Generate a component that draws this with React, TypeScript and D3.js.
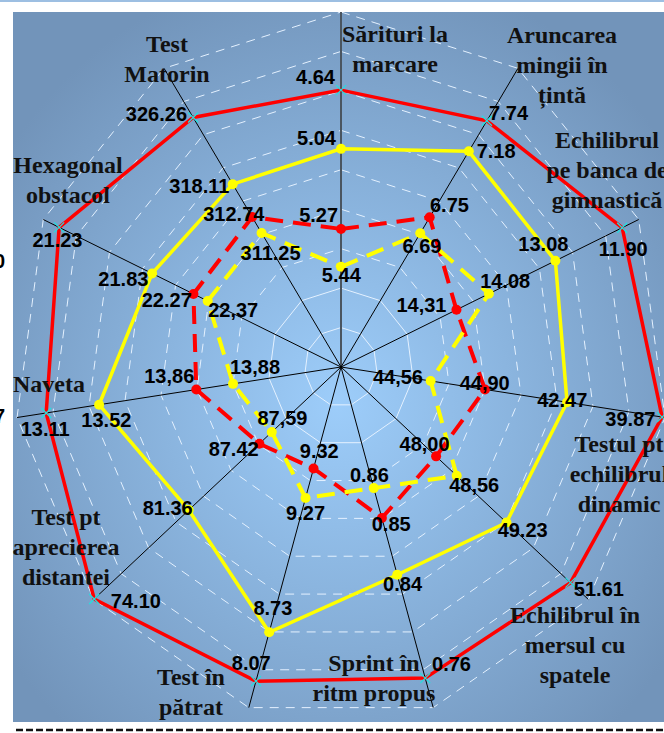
import React, { useEffect, useRef } from 'react';
import * as d3 from 'd3';

// axis names (multi-line)
const categories = [
  ['Sărituri la', 'marcare'],
  ['Aruncarea', 'mingii în', 'țintă'],
  ['Echilibrul', 'pe banca de', 'gimnastică'],
  ['Testul pt', 'echilibrul', 'dinamic'],
  ['Echilibrul în', 'mersul cu', 'spatele'],
  ['Sprint în', 'ritm propus'],
  ['Test în', 'pătrat'],
  ['Test pt', 'aprecierea', 'distantei'],
  ['Naveta'],
  ['Hexagonal', 'obstacol'],
  ['Test', 'Matorin'],
];

// plotted (scaled) values, 0..9 radial scale
const redSolid = [7.02, 7.42, 8.5, 8.92, 8.35, 8.22, 8.3, 8.98, 8.19, 8.52, 7.52];
const yellowSolid = [5.53, 6.5, 6.48, 6.28, 6.02, 5.49, 7.01, 5.54, 6.72, 5.71, 5.51];
const redDashed = [3.5, 4.51, 3.49, 4.0, 3.46, 3.99, 2.68, 2.97, 4.02, 4.46, 4.52];
const yellowDashed = [2.54, 4.03, 4.47, 2.49, 4.21, 3.2, 3.46, 2.52, 3.0, 4.03, 4.04];

// raw results written next to the points
const redSolidLabels = ['4.64', '7.74', '11.90', '39.87', '51.61', '0.76', '8.07', '74.10', '13.11', '21.23', '326.26'];
const yellowSolidLabels = ['5.04', '7.18', '13.08', '42.47', '49.23', '0.84', '8.73', '81.36', '13.52', '21.83', '318.11'];
const redDashedLabels = ['5.27', '6.75', '14,31', '44,90', '48,00', '0.85', '9.32', '87.42', '13,86', '22.27', '312.74'];
const yellowDashedLabels = ['5.44', '6.69', '14.08', '44,56', '48,56', '0.86', '9.27', '87,59', '13,88', '22,37', '311.25'];

// layout: label offsets from their point (x centre, baseline)
const redSolidOff = [[-25.5, -6], [21.7, -0.7], [1, 28], [-31.7, 9], [28.4, 13.4], [26.3, -7.3], [-4.7, -11], [41.7, 9], [-1, 23], [-1.7, 20], [-36.7, 4]];
const yellowSolidOff = [[-24.5, -4], [27.3, 6.6], [-12, -10], [-4.8, 4.3], [16.2, 14], [5.3, 16.7], [3.7, -17.7], [-21, 5], [7.3, 22.3], [-28.7, 12.3], [-33.3, 8.4]];
const redDashedOff = [[-22.4, -7.3], [19.8, -5.6], [-35, 2.4], [-0.3, 1], [-11.5, -5], [9.3, 13.4], [5.7, -10.6], [-25.7, 12.7], [-27, -6.6], [-26.7, 13.3], [-18.3, 4.4]];
const yellowDashedOff = [[0.3, 15], [1.7, 20], [16.3, -6], [-32.7, 3.3], [17.5, 16.6], [-4.4, -6.6], [0, 22.4], [10.7, -6.7], [22, -9.4], [25.5, 15.7], [9, 26.7]];

// layout: category label anchors (x centre, first baseline)
const categoryPos = [[395, 42], [562, 43], [607, 148], [619, 452], [575, 623], [374, 671], [191, 685], [66, 525], [49, 392], [68, 173], [167, 52]];

const W = 664;
const H = 733;

const App: React.FC = () => {
  const ref = useRef<SVGSVGElement>(null);

  useEffect(() => {
    document.body.style.margin = '0';
    if (!ref.current) return;
    const svg = d3.select(ref.current);
    svg.selectAll('*').remove();

    const cx = 341;
    const cy = 367;
    const n = categories.length;
    const rY = d3.scaleLinear().domain([0, 9]).range([0, 355]);
    const xSquash = 0.922; // the original is squeezed horizontally
    const angle = d3.scaleLinear().domain([0, n]).range([0, 2 * Math.PI]);
    const pt = (i: number, v: number): [number, number] => [
      cx + Math.sin(angle(i)) * rY(v) * xSquash,
      cy - Math.cos(angle(i)) * rY(v),
    ];

    const defs = svg.append('defs');
    const grad = defs.append('radialGradient').attr('id', 'bg')
      .attr('cx', '50%').attr('cy', '55%').attr('r', '62%');
    grad.append('stop').attr('offset', '0%').attr('stop-color', '#9dcdfa');
    grad.append('stop').attr('offset', '100%').attr('stop-color', '#7294ba');
    defs.append('clipPath').attr('id', 'plot')
      .append('rect').attr('x', 13).attr('y', 12).attr('width', W - 13).attr('height', 710);

    // frame bits around the picture
    svg.append('line').attr('x1', 0).attr('x2', W).attr('y1', 1).attr('y2', 1)
      .attr('stroke', '#9dbfe2').attr('stroke-width', 2);
    svg.append('line').attr('x1', 16).attr('x2', W).attr('y1', 730).attr('y2', 730)
      .attr('stroke', '#111').attr('stroke-width', 2.5).attr('stroke-dasharray', '7,3');
    svg.append('rect').attr('x', 13).attr('y', 12).attr('width', W - 13).attr('height', 710)
      .attr('fill', 'url(#bg)');

    const g = svg.append('g').attr('clip-path', 'url(#plot)');

    // grid rings
    const ring = d3.line<number>()
      .x((i) => pt(i, 1)[0]).y((i) => pt(i, 1)[1]);
    d3.range(1, 10).forEach((k) => {
      const path = d3.line<number>()
        .x((i) => pt(i, k)[0])
        .y((i) => pt(i, k)[1])
        .curve(d3.curveLinearClosed);
      g.append('path')
        .attr('d', path(d3.range(n)))
        .attr('fill', 'none')
        .attr('stroke', '#e4f1ff')
        .attr('stroke-width', 1)
        .attr('stroke-dasharray', k <= 2 ? null : '9,7');
    });
    void ring;

    // spokes
    d3.range(n).forEach((i) => {
      const [x2, y2] = pt(i, 9);
      g.append('line')
        .attr('x1', cx).attr('y1', cy).attr('x2', x2).attr('y2', y2)
        .attr('stroke', i === 0 ? '#4a5560' : '#000')
        .attr('stroke-width', i === 0 ? 2 : 1);
    });

    const line = (vals: number[]) => d3.line<number>()
      .x((v, i) => pt(i, v)[0])
      .y((v, i) => pt(i, v)[1])
      .curve(d3.curveLinearClosed)(vals);

    // red solid with cyan crosses
    g.append('path').attr('d', line(redSolid)).attr('fill', 'none')
      .attr('stroke', '#ff0000').attr('stroke-width', 3.5);
    redSolid.forEach((v, i) => {
      const [x, y] = pt(i, v);
      g.append('path')
        .attr('d', `M${x - 5},${y - 5}L${x + 5},${y + 5}M${x - 5},${y + 5}L${x + 5},${y - 5}`)
        .attr('stroke', '#22e0e0').attr('stroke-width', 1.2);
    });

    const series = [
      { vals: yellowSolid, color: '#ffff00', dash: null as string | null, w: 3.5 },
      { vals: redDashed, color: '#ff0000', dash: '18,10', w: 4 },
      { vals: yellowDashed, color: '#ffff00', dash: '18,10', w: 4 },
    ];
    series.forEach((s) => {
      g.append('path').attr('d', line(s.vals)).attr('fill', 'none')
        .attr('stroke', s.color).attr('stroke-width', s.w)
        .attr('stroke-dasharray', s.dash);
      g.selectAll(null).data(s.vals).enter().append('circle')
        .attr('cx', (v, i) => pt(i, v)[0])
        .attr('cy', (v, i) => pt(i, v)[1])
        .attr('r', 5)
        .attr('fill', s.color);
    });

    // category names
    categories.forEach((lines, i) => {
      const t = svg.append('text')
        .attr('x', categoryPos[i][0]).attr('y', categoryPos[i][1])
        .attr('text-anchor', 'middle')
        .style('font-family', '"Liberation Serif", "Times New Roman", serif')
        .style('font-size', '24px')
        .style('font-weight', 'bold')
        .attr('fill', '#111');
      lines.forEach((l, j) => {
        t.append('tspan').attr('x', categoryPos[i][0]).attr('dy', j === 0 ? 0 : 30).text(l);
      });
    });

    // data labels
    const labelSets = [
      { vals: redSolid, labels: redSolidLabels, off: redSolidOff },
      { vals: yellowSolid, labels: yellowSolidLabels, off: yellowSolidOff },
      { vals: redDashed, labels: redDashedLabels, off: redDashedOff },
      { vals: yellowDashed, labels: yellowDashedLabels, off: yellowDashedOff },
    ];
    labelSets.forEach((s) => {
      s.vals.forEach((v, i) => {
        const [x, y] = pt(i, v);
        svg.append('text')
          .attr('x', x + s.off[i][0]).attr('y', y + s.off[i][1])
          .attr('text-anchor', 'middle')
          .style('font-family', '"Liberation Sans", Arial, sans-serif')
          .style('font-size', '20px')
          .style('font-weight', 'bold')
          .attr('fill', '#000')
          .text(s.labels[i]);
      });
    });

    // cut-off labels from a neighbouring chart at the left edge
    svg.append('text').attr('x', 5).attr('y', 268).attr('text-anchor', 'end')
      .style('font-family', '"Liberation Sans", Arial, sans-serif')
      .style('font-size', '20px').style('font-weight', 'bold').text('0');
    svg.append('text').attr('x', 5).attr('y', 423).attr('text-anchor', 'end')
      .style('font-family', '"Liberation Sans", Arial, sans-serif')
      .style('font-size', '20px').style('font-weight', 'bold').text('7');
  }, []);

  return (
    <svg
      ref={ref}
      width={W}
      height={H}
      style={{ display: 'block', position: 'absolute', left: 0, top: 0, background: '#fff' }}
    />
  );
};

export default App;
